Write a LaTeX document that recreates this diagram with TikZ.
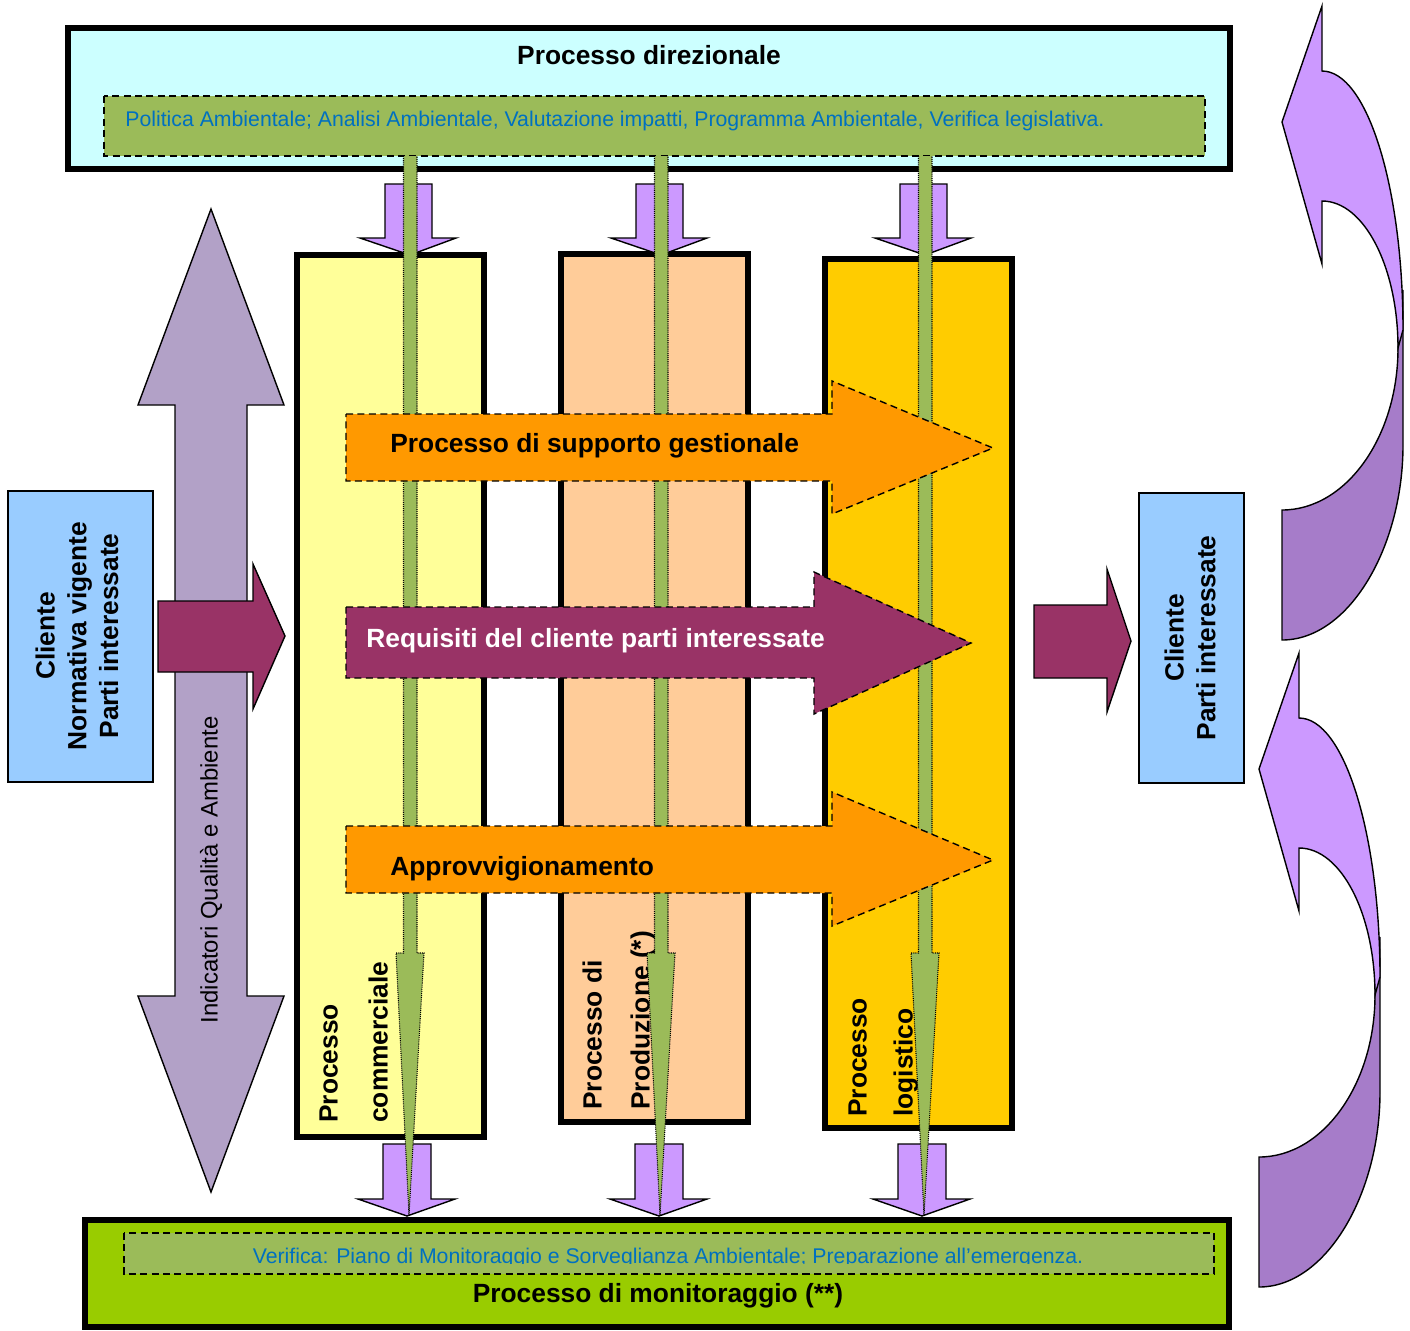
\documentclass[tikz,border=0pt]{standalone}
\usepackage{fontspec}
\setmainfont{Liberation Sans}

\definecolor{dirfill}{HTML}{CCFFFF}
\definecolor{innergreen}{HTML}{9BBB59}
\definecolor{textblue}{HTML}{0070C0}
\definecolor{commfill}{HTML}{FFFF99}
\definecolor{prodfill}{HTML}{FFCC99}
\definecolor{logfill}{HTML}{FFCC00}
\definecolor{supporange}{HTML}{FF9900}
\definecolor{reqmagenta}{HTML}{993366}
\definecolor{indlilac}{HTML}{B2A1C7}
\definecolor{flowviolet}{HTML}{CC99FF}
\definecolor{loopdark}{HTML}{A67CC9}
\definecolor{clientblue}{HTML}{99CCFF}
\definecolor{monfill}{HTML}{99CC00}

\tikzset{
	procbox/.style={draw=black,line width=3.3pt},
	dashbox/.style={draw=black,line width=0.8pt,dash pattern=on 4pt off 2.5pt,fill=innergreen},
	bigarrow/.style={draw=black,line width=0.8pt,dash pattern=on 4pt off 2.5pt},
	flatarrow/.style={draw=black,line width=0.8pt},
	greenbar/.style={draw=black,line width=0.6pt,dash pattern=on 0.6pt off 0.6pt,fill=innergreen},
	titletext/.style={font=\fontsize{15}{18}\selectfont\bfseries,inner sep=0pt},
	bluetext/.style={font=\fontsize{12.1}{14}\selectfont,text=textblue,inner sep=0pt},
	collabel/.style={titletext,rotate=90,anchor=mid west}
}

\begin{document}
\begin{tikzpicture}[x=0.02cm,y=-0.02cm]
	\fill[white] (0,0) rectangle (1410,1330);
	\useasboundingbox (0,0) rectangle (1410,1330);

	% direzione e monitoraggio
	\draw[procbox,fill=dirfill] (68,28) rectangle (1230,169);
	\node[titletext,anchor=base] (dirtitle) at (649,64) {Processo direzionale};
	\draw[dashbox] (104,96) rectangle (1205,156);
	\node[bluetext,anchor=base west] (dirtext) at (125,126) {Politica Ambientale; Analisi Ambientale, Valutazione impatti, Programma Ambientale, Verifica legislativa.};

	\draw[procbox,fill=monfill] (85,1220) rectangle (1229,1327);
	\draw[dashbox] (124,1233) rectangle (1214,1274);
	\begin{scope}
		\clip (124,1233) rectangle (1214,1263.5);
		\node[bluetext,anchor=base] (montext) at (668,1263) {Verifica: Piano di Monitoraggio e Sorveglianza Ambientale; Preparazione all’emergenza.};
	\end{scope}
	\node[titletext,anchor=base] (montitle) at (658,1302) {Processo di monitoraggio (**)};

	% indicatori
	\draw[flatarrow,fill=indlilac] (211,209) -- (284,405) -- (247,405) -- (247,996) -- (284,996) -- (211,1192)
		-- (138,996) -- (175,996) -- (175,405) -- (138,405) -- cycle;
	\node[rotate=90,inner sep=0pt,font=\fontsize{13.6}{16}\selectfont] (indic) at (211,870) {Indicatori Qualità e Ambiente};

	% ingresso
	\draw[flatarrow,fill=clientblue] (8,491) rectangle (153,782);
	\node[rotate=90,align=center,inner sep=0pt,font=\fontsize{15}{18.1}\selectfont\bfseries] (clientin) at (77,636)
		{Cliente\\Normativa vigente\\Parti interessate};
	\draw[flatarrow,fill=reqmagenta] (158,601) -- (253,601) -- (253,564) -- (285,636) -- (253,709) -- (253,672) -- (158,672) -- cycle;

	% processi
	\draw[procbox,fill=commfill] (297,255) rectangle (484,1137);
	\draw[procbox,fill=prodfill] (561,254) rectangle (748,1122);
	\draw[procbox,fill=logfill] (825,259) rectangle (1012,1128);
	\node[collabel] (comm1) at (333,1123) {Processo};
	\node[collabel] (comm2) at (383,1123) {commerciale};
	\node[collabel] (prod1) at (597,1110) {Processo di};
	\node[collabel] (prod2) at (645,1110) {Produzione (*)};
	\node[collabel] (log1) at (862,1117) {Processo};
	\node[collabel] (log2) at (908,1117) {logistico};

	% frecce viola
	\foreach \xc in {410,661,925}{
		\draw[flatarrow,fill=flowviolet] (\xc-25,184) -- (\xc+22,184) -- (\xc+22,238) -- (\xc+46,238) -- (\xc,255)
			-- (\xc-50,238) -- (\xc-25,238) -- cycle;
	}
	\foreach \xc in {407,659,922}{
		\draw[flatarrow,fill=flowviolet] (\xc-24,1144) -- (\xc+24,1144) -- (\xc+24,1199) -- (\xc+48,1199) -- (\xc,1216)
			-- (\xc-49,1199) -- (\xc-24,1199) -- cycle;
	}

	% barre verdi
	\foreach \xc in {410,661,925}{
		\draw[greenbar] (\xc-6.5,156) -- (\xc-6.5,953) -- (\xc-14,953) -- (\xc-1,1215) -- (\xc+14,953)
			-- (\xc+7,953) -- (\xc+7,156);
	}

	% frecce orizzontali
	\draw[bigarrow,fill=supporange] (346,414) -- (832,414) -- (832,381) -- (993,448) -- (832,514) -- (832,481) -- (346,481) -- cycle;
	\node[titletext,anchor=base west] (supp) at (390,452) {Processo di supporto gestionale};
	\draw[bigarrow,fill=reqmagenta] (346,607) -- (814,607) -- (814,572) -- (971,643) -- (814,714) -- (814,678) -- (346,678) -- cycle;
	\node[titletext,anchor=base west,text=white] (req) at (366,647) {Requisiti del cliente parti interessate};
	\draw[bigarrow,fill=supporange] (346,826) -- (832,826) -- (832,792) -- (993,860) -- (832,926) -- (832,893) -- (346,893) -- cycle;
	\node[titletext,anchor=base west] (appr) at (390,875) {Approvvigionamento};

	% uscita
	\draw[flatarrow,fill=reqmagenta] (1034,605) -- (1107,605) -- (1107,569) -- (1131,641) -- (1107,712) -- (1107,678) -- (1034,678) -- cycle;
	\draw[flatarrow,fill=clientblue] (1139,493) rectangle (1244,783);
	\node[rotate=90,align=center,inner sep=0pt,font=\fontsize{15}{18.1}\selectfont\bfseries] (clientout) at (1190,638)
		{Cliente\\Parti interessate};

	% frecce curve
	\foreach \sx/\sy in {0/0,-23/647}{
		\begin{scope}[shift={(\sx,\sy)}]
			\draw[flatarrow,fill=loopdark] (1282,640) -- (1282,510) .. controls (1346,510) and (1398,437) .. (1398,348)
				-- (1403,290) -- (1403,445) .. controls (1403,547) and (1349,640) .. (1282,640) -- cycle;
			\draw[flatarrow,fill=flowviolet] (1322,71) -- (1322,6) -- (1282,122) -- (1322,264) -- (1322,201)
				.. controls (1364,201) and (1398,267) .. (1398,348) -- (1403,330)
				.. controls (1403,187) and (1367,71) .. (1322,71) -- cycle;
		\end{scope}
	}
\end{tikzpicture}
\end{document}
